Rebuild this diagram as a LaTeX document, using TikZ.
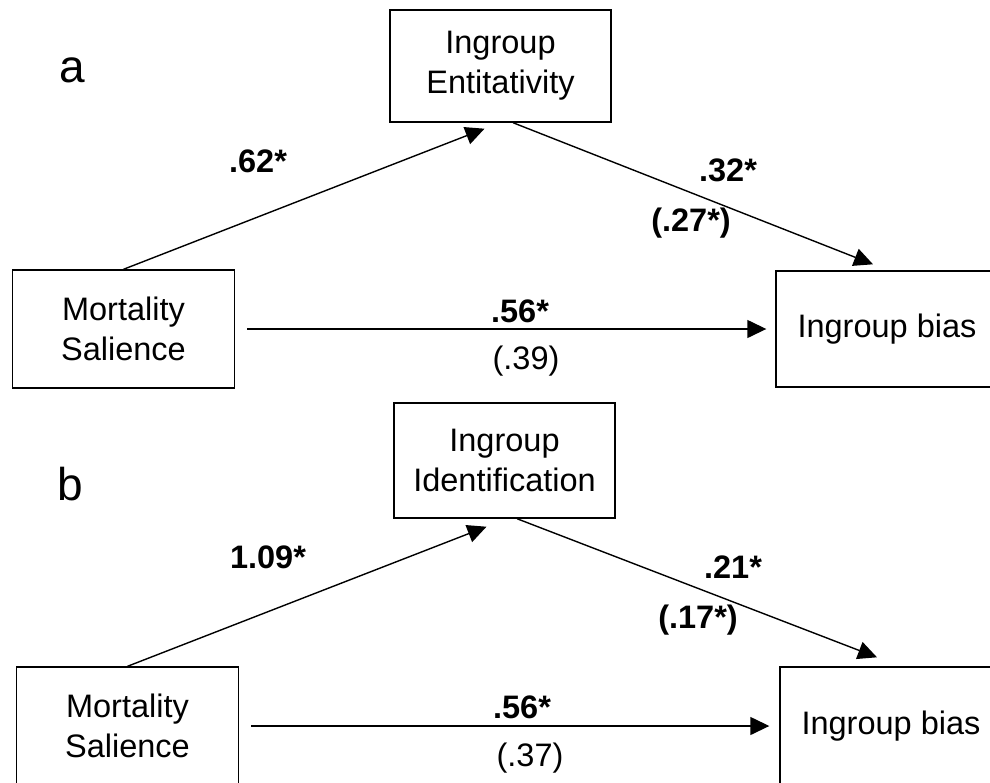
\documentclass[tikz,border=0pt]{standalone}
\usepackage{fontspec}
\setmainfont{Liberation Sans}
\usetikzlibrary{arrows.meta,calc}
\tikzset{
	box/.style={draw,line width=1.4pt,minimum width=222pt,minimum height=116pt,align=center,inner sep=0pt,font=\fontsize{32.5}{40}\selectfont},
	coef/.style={inner sep=0pt,font=\fontsize{32.5}{38}\selectfont\bfseries},
	coefp/.style={inner sep=0pt,font=\fontsize{32.5}{38}\selectfont},
	panel/.style={inner sep=0pt,font=\fontsize{46}{50}\selectfont},
	link/.style={line width=1.4pt,-{Triangle[length=19pt,width=18pt]}}
}

\begin{document}
\begin{tikzpicture}[x=1pt,y=-1pt]
	\useasboundingbox (0,0) rectangle (990,782);
	\clip (0,0) rectangle (990,782);

	% panel a
	\node [panel] (la) at (72,70) {a};
	\node [box,minimum width=221pt,minimum height=112pt] (entA) at (500.5,66) {Ingroup\\Entitativity};
	\node [box,minimum height=118pt] (msA) at (123.5,329) {Mortality\\Salience};
	\node [box] (biasA) at (887,329) {Ingroup bias};

	\draw [link] (msA.north) -- ($(entA.south)+(-16,6)$);
	\draw [link] ($(entA.south)+(12.5,0)$) -- ($(biasA.north)+(-14,-6)$);
	\draw [link] ($(msA.east)+(12,0)$) -- ($(biasA.west)+(-9,0)$);

	\node [coef] (a1) at (258,161) {.62*};
	\node [coef] (a2) at (728,170) {.32*};
	\node [coef] (a2c) at (691,223) {(.27*)};
	\node [coef] (a3) at (520,311) {.56*};
	\node [coefp] (a3c) at (526,361) {(.39)};

	% panel b
	\node [panel] (lb) at (70,484) {b};
	\node [box,minimum width=221pt,minimum height=115pt] (entB) at (504.5,460.5) {Ingroup\\Identification};
	\node [box,minimum height=118pt] (msB) at (127.5,726) {Mortality\\Salience};
	\node [box,minimum height=118pt] (biasB) at (891,726) {Ingroup bias};

	\draw [link] (msB.north) -- ($(entB.south)+(-18,8)$);
	\draw [link] ($(entB.south)+(12.5,0)$) -- ($(biasB.north)+(-14,-9)$);
	\draw [link] ($(msB.east)+(12,0)$) -- ($(biasB.west)+(-10,0)$);

	\node [coef] (b1) at (268,557) {1.09*};
	\node [coef] (b2) at (733,567) {.21*};
	\node [coef] (b2c) at (698,620) {(.17*)};
	\node [coef] (b3) at (522,707) {.56*};
	\node [coefp] (b3c) at (530,758) {(.37)};
\end{tikzpicture}
\end{document}
